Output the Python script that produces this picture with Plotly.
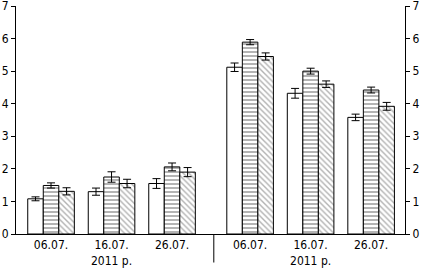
import plotly.graph_objects as go

categories = ["06.07.", "16.07.<br>2011 р.", "26.07.", "06.07.", "16.07.<br>2011 р.", "26.07."]
positions = [0, 1, 2, 3.29, 4.29, 5.29]

s1 = [1.08, 1.30, 1.55, 5.12, 4.32, 3.58]
e1 = [0.06, 0.11, 0.15, 0.13, 0.15, 0.10]
s2 = [1.49, 1.75, 2.06, 5.89, 5.00, 4.42]
e2 = [0.08, 0.16, 0.12, 0.08, 0.09, 0.09]
s3 = [1.31, 1.55, 1.90, 5.45, 4.60, 3.92]
e3 = [0.11, 0.13, 0.14, 0.11, 0.10, 0.12]

separator_x = 2.69

font = dict(family="DejaVu Sans Condensed, Liberation Sans Narrow, Arial Narrow, Liberation Sans, Arial",
            size=12, color="black")

def err(e):
    return dict(type="data", array=e, visible=True, color="black", thickness=1, width=4)

fig = go.Figure()
fig.add_trace(go.Bar(x=positions, y=s1, error_y=err(e1),
                     marker=dict(color="white", line=dict(color="black", width=1))))
fig.add_trace(go.Bar(x=positions, y=s2, error_y=err(e2),
                     marker=dict(color="white", line=dict(color="black", width=1),
                                 pattern=dict(shape="-", fgcolor="#444444", size=4, solidity=0.4))))
fig.add_trace(go.Bar(x=positions, y=s3, error_y=err(e3),
                     marker=dict(color="white", line=dict(color="black", width=1),
                                 pattern=dict(shape="\\", fgcolor="#666666", size=4, solidity=0.35))))
# invisible trace to show right axis
fig.add_trace(go.Scatter(x=[positions[0]], y=[0], yaxis="y2", mode="markers",
                         marker=dict(opacity=0), hoverinfo="skip", showlegend=False))

fig.add_shape(type="line", xref="x", yref="paper", x0=separator_x, x1=separator_x,
              y0=0, y1=-0.125, line=dict(color="black", width=1))

fig.update_layout(
    width=423, height=272,
    margin=dict(l=16, r=18, t=6, b=38, autoexpand=False),
    paper_bgcolor="white", plot_bgcolor="white",
    barmode="group", bargap=0.23, bargroupgap=0,
    showlegend=False,
    font=font,
    xaxis=dict(range=[-0.579, 5.85], tickvals=positions, ticktext=categories,
               showline=True, linecolor="black", linewidth=1, ticks="",
               showgrid=False, zeroline=False, tickfont=font, automargin=False),
    yaxis=dict(range=[0, 7], tickvals=[0, 1, 2, 3, 4, 5, 6, 7], ticks="outside", ticklen=4,
               tickcolor="black", showline=True, linecolor="black", linewidth=1, showgrid=False,
               zeroline=False, tickfont=font, automargin=False, ticklabeloverflow="allow"),
    yaxis2=dict(range=[0, 7], tickvals=[0, 1, 2, 3, 4, 5, 6, 7], ticks="outside", ticklen=4,
                tickcolor="black", showline=True, linecolor="black", linewidth=1, showgrid=False,
                zeroline=False, overlaying="y", side="right", tickfont=font, automargin=False,
                ticklabeloverflow="allow"),
)

fig.write_html("out.html")
